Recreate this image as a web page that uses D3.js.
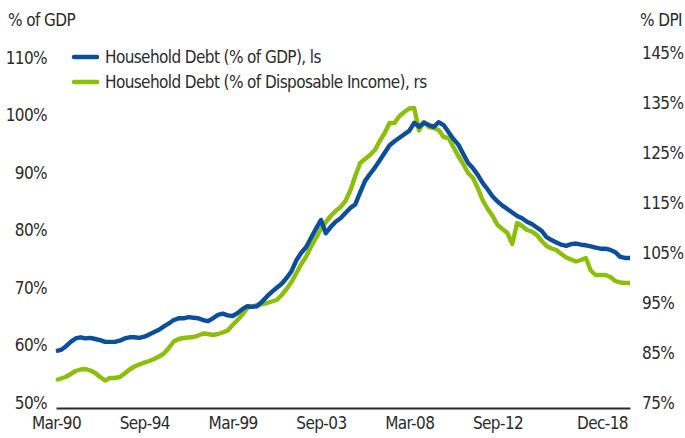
<!DOCTYPE html>
<html>
<head>
<meta charset="utf-8">
<script src="https://cdn.jsdelivr.net/npm/d3@7"></script>
<style>
  body { margin: 0; background: #fff; }
  svg text { font-family: "Liberation Sans Narrow", "DejaVu Sans Condensed", sans-serif; font-stretch: condensed; letter-spacing: -0.6px; fill: #2b2b2b; }
</style>
</head>
<body>
<svg id="chart"></svg>
<script>
// quarterly, Mar-90 .. Jun-19
var debtToGdp = [
  59.9, 60.1, 60.7, 61.5, 62.1, 62.3, 62.1, 62.2, 62.0, 61.8,
  61.5, 61.5, 61.5, 61.7, 62.1, 62.3, 62.3, 62.2, 62.4, 62.8,
  63.2, 63.6, 64.2, 64.7, 65.3, 65.6, 65.6, 65.8, 65.7, 65.6,
  65.3, 65.1, 65.6, 66.2, 66.4, 66.1, 66.0, 66.5, 67.2, 67.7,
  67.6, 67.7, 68.5, 69.4, 70.2, 70.9, 71.6, 72.6, 73.8, 75.7,
  77.0, 78.0, 79.6, 81.2, 82.7, 80.4, 81.5, 82.4, 83.0, 83.9,
  84.8, 85.4, 87.5, 89.5, 90.7, 91.8, 93.1, 94.4, 95.7, 96.4,
  97.0, 97.6, 98.2, 99.6, 98.9, 99.6, 99.2, 98.9, 99.7, 99.2,
  98.0, 96.8, 95.8, 94.2, 92.6, 91.7, 90.5, 89.1, 88.0, 86.8,
  85.9, 85.2, 84.6, 84.0, 83.4, 83.0, 82.4, 82.0, 81.4, 80.8,
  79.7, 79.2, 78.8, 78.4, 78.2, 78.5, 78.6, 78.4, 78.3, 78.1,
  77.9, 77.7, 77.7, 77.5, 77.1, 76.3, 76.1, 76.1
];
var debtToDpi = [
  80.6, 80.9, 81.2, 81.8, 82.4, 82.7, 82.8, 82.5, 82.0, 81.2,
  80.5, 81.0, 81.0, 81.2, 81.9, 82.7, 83.3, 83.7, 84.1, 84.4,
  84.8, 85.3, 85.9, 87.0, 88.3, 88.8, 89.0, 89.1, 89.2, 89.5,
  89.9, 89.8, 89.6, 89.8, 90.1, 90.5, 91.6, 92.6, 93.7, 95.0,
  95.3, 95.6, 95.8, 96.0, 96.3, 96.6, 97.6, 98.8, 100.2, 102.0,
  103.8, 105.3, 107.3, 109.0, 110.8, 112.2, 113.4, 114.4, 115.2, 116.4,
  118.5, 121.4, 124.0, 124.8, 125.6, 126.6, 128.4, 130.0, 132.0, 132.0,
  133.4, 134.2, 134.9, 135.0, 130.5, 132.2, 131.2, 131.0, 130.6, 129.2,
  129.0, 127.2, 125.4, 123.8, 122.0, 121.0, 118.9, 116.5, 114.8, 113.4,
  111.6, 110.8, 110.0, 107.8, 112.0, 111.4, 110.6, 110.3, 109.6, 108.4,
  107.4, 106.9, 106.6, 105.8, 105.1, 104.7, 104.3, 104.6, 105.0, 102.5,
  101.6, 101.6, 101.6, 101.2, 100.4, 100.1, 100.0, 100.0
];
var xTickIndex = [0, 18, 36, 54, 72, 90, 115];
var xTickLabels = ["Mar-90", "Sep-94", "Mar-99", "Sep-03", "Mar-08", "Sep-12", "Dec-18"];
var leftTicks = [50, 60, 70, 80, 90, 100, 110];
var rightTicks = [75, 85, 95, 105, 115, 125, 135, 145];
var seriesNames = ["Household Debt (% of GDP), ls", "Household Debt (% of Disposable Income), rs"];
var seriesColors = ["#0b4f9c", "#8cbf0a"];

var config = {
  width: 685,
  height: 438,
  plotLeft: 56,
  plotRight: 630,
  plotBottom: 408,
  leftTop: 63,
  rightTop: 58,
  fontSize: 17,
  lineWidth: 4.4
};

var svg = d3.select('#chart')
  .attr('width', config.width)
  .attr('height', config.height);

var x = d3.scaleLinear()
  .domain([0, debtToGdp.length - 1])
  .range([config.plotLeft, config.plotRight]);

var yLeft = d3.scaleLinear()
  .domain([50, 110])
  .range([config.plotBottom, config.leftTop]);

var yRight = d3.scaleLinear()
  .domain([75, 145])
  .range([config.plotBottom, config.rightTop]);

// axis titles
svg.append('text')
  .attr('x', 8).attr('y', 26)
  .attr('font-size', config.fontSize)
  .text('% of GDP');
svg.append('text')
  .attr('x', 682).attr('y', 26)
  .attr('text-anchor', 'end')
  .attr('font-size', config.fontSize)
  .text('% DPI');

// left axis
var gLeft = svg.append('g')
  .attr('transform', 'translate(49,0)')
  .call(d3.axisLeft(yLeft).tickValues(leftTicks).tickSize(0).tickPadding(2)
    .tickFormat(function(d) { return d + '%'; }));
gLeft.select('.domain').remove();

// right axis
var gRight = svg.append('g')
  .attr('transform', 'translate(640,0)')
  .call(d3.axisRight(yRight).tickValues(rightTicks).tickSize(0).tickPadding(2)
    .tickFormat(function(d) { return d + '%'; }));
gRight.select('.domain').remove();

gLeft.selectAll('text').attr('dy', '0em');
gRight.selectAll('text').attr('dy', '0em');

// bottom axis
var gBottom = svg.append('g')
  .attr('transform', 'translate(0,' + config.plotBottom + ')')
  .call(d3.axisBottom(x).tickValues(xTickIndex).tickSize(0).tickSizeOuter(0).tickPadding(9)
    .tickFormat(function(d, i) { return xTickLabels[i]; }));
gBottom.select('.domain')
  .attr('stroke', '#2b2b2b')
  .attr('stroke-width', 2.2);
gBottom.selectAll('text').attr('dy', '0.71em');

svg.selectAll('.tick text')
  .attr('font-family', null)
  .attr('font-size', config.fontSize)
  .attr('fill', '#2b2b2b');
gLeft.attr('font-family', null).attr('font-size', null);
gRight.attr('font-family', null).attr('font-size', null);
gBottom.attr('font-family', null).attr('font-size', null);

// keep the last date label inside the axis
gBottom.selectAll('.tick').each(function() {
  var t = d3.select(this).select('text');
  var w = t.node().getComputedTextLength();
  var tx = +d3.select(this).attr('transform').match(/translate\(([-\d.]+)/)[1];
  if (tx + w / 2 > config.plotRight) {
    t.attr('x', config.plotRight - 2 - w / 2 - tx);
  }
});

var lineLeft = d3.line()
  .x(function(d, i) { return x(i); })
  .y(function(d) { return yLeft(d); });
var lineRight = d3.line()
  .x(function(d, i) { return x(i); })
  .y(function(d) { return yRight(d); });

svg.append('path')
  .attr('d', lineRight(debtToDpi))
  .attr('fill', 'none')
  .attr('stroke', seriesColors[1])
  .attr('stroke-width', config.lineWidth)
  .attr('stroke-linejoin', 'round');

svg.append('path')
  .attr('d', lineLeft(debtToGdp))
  .attr('fill', 'none')
  .attr('stroke', seriesColors[0])
  .attr('stroke-width', config.lineWidth)
  .attr('stroke-linejoin', 'round');

// legend
var legend = svg.append('g').attr('transform', 'translate(74,57)');
seriesNames.forEach(function(name, i) {
  legend.append('line')
    .attr('x1', 0).attr('x2', 23)
    .attr('y1', i * 25).attr('y2', i * 25)
    .attr('stroke', seriesColors[i])
    .attr('stroke-width', 4.5)
    .attr('stroke-linecap', 'round');
  legend.append('text')
    .attr('x', 31).attr('y', i * 25)
    .attr('dy', '0.35em')
    .attr('font-size', config.fontSize)
    .text(name);
});
</script>
</body>
</html>
